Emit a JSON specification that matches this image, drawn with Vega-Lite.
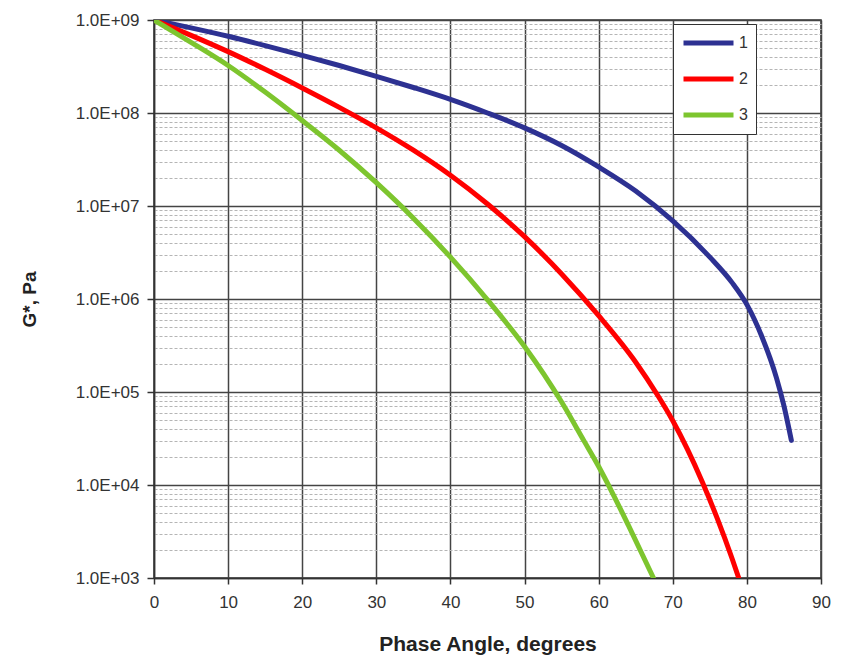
{
  "$schema": "https://vega.github.io/schema/vega-lite/v6.json",
  "width": 667,
  "height": 558,
  "autosize": "none",
  "padding": {"left": 154, "top": 20, "right": 21, "bottom": 79},
  "background": "white",
  "config": {
    "font": "Liberation Sans",
    "view": {"stroke": "#333333", "strokeWidth": 1.5}
  },
  "data": {
    "values": [
      {"series": "1", "angle": 0, "G": 1e9},
      {"series": "1", "angle": 5, "G": 8.22e8},
      {"series": "1", "angle": 10, "G": 6.68e8},
      {"series": "1", "angle": 15, "G": 5.31e8},
      {"series": "1", "angle": 20, "G": 4.17e8},
      {"series": "1", "angle": 25, "G": 3.24e8},
      {"series": "1", "angle": 30, "G": 2.48e8},
      {"series": "1", "angle": 35, "G": 1.88e8},
      {"series": "1", "angle": 40, "G": 1.40e8},
      {"series": "1", "angle": 45, "G": 1.0e8},
      {"series": "1", "angle": 50, "G": 6.92e7},
      {"series": "1", "angle": 55, "G": 4.47e7},
      {"series": "1", "angle": 60, "G": 2.63e7},
      {"series": "1", "angle": 65, "G": 1.45e7},
      {"series": "1", "angle": 70, "G": 6.92e6},
      {"series": "1", "angle": 75, "G": 2.82e6},
      {"series": "1", "angle": 78, "G": 1.5e6},
      {"series": "1", "angle": 80, "G": 8.7e5},
      {"series": "1", "angle": 82, "G": 3.98e5},
      {"series": "1", "angle": 84, "G": 1.41e5},
      {"series": "1", "angle": 85, "G": 7.08e4},
      {"series": "1", "angle": 86, "G": 3.02e4},
      {"series": "2", "angle": 0, "G": 1e9},
      {"series": "2", "angle": 5, "G": 6.84e8},
      {"series": "2", "angle": 10, "G": 4.57e8},
      {"series": "2", "angle": 15, "G": 2.95e8},
      {"series": "2", "angle": 20, "G": 1.86e8},
      {"series": "2", "angle": 25, "G": 1.15e8},
      {"series": "2", "angle": 30, "G": 6.92e7},
      {"series": "2", "angle": 35, "G": 3.98e7},
      {"series": "2", "angle": 40, "G": 2.14e7},
      {"series": "2", "angle": 45, "G": 1.05e7},
      {"series": "2", "angle": 50, "G": 4.68e6},
      {"series": "2", "angle": 55, "G": 1.86e6},
      {"series": "2", "angle": 60, "G": 6.61e5},
      {"series": "2", "angle": 65, "G": 2.09e5},
      {"series": "2", "angle": 68, "G": 9.1e4},
      {"series": "2", "angle": 70, "G": 4.9e4},
      {"series": "2", "angle": 72, "G": 2.4e4},
      {"series": "2", "angle": 74, "G": 1.07e4},
      {"series": "2", "angle": 76, "G": 4.37e3},
      {"series": "2", "angle": 78, "G": 1.62e3},
      {"series": "2", "angle": 78.9, "G": 1.0e3},
      {"series": "3", "angle": 0, "G": 1e9},
      {"series": "3", "angle": 5, "G": 5.75e8},
      {"series": "3", "angle": 10, "G": 3.24e8},
      {"series": "3", "angle": 15, "G": 1.68e8},
      {"series": "3", "angle": 20, "G": 8.3e7},
      {"series": "3", "angle": 25, "G": 3.98e7},
      {"series": "3", "angle": 30, "G": 1.78e7},
      {"series": "3", "angle": 35, "G": 7.4e6},
      {"series": "3", "angle": 40, "G": 2.82e6},
      {"series": "3", "angle": 45, "G": 9.8e5},
      {"series": "3", "angle": 50, "G": 3.09e5},
      {"series": "3", "angle": 55, "G": 7.8e4},
      {"series": "3", "angle": 58, "G": 3.0e4},
      {"series": "3", "angle": 60, "G": 1.58e4},
      {"series": "3", "angle": 62, "G": 7.8e3},
      {"series": "3", "angle": 64, "G": 3.7e3},
      {"series": "3", "angle": 67.4, "G": 1.0e3}
    ]
  },
  "layer": [
    {
      "mark": {"type": "line", "opacity": 0},
      "encoding": {
        "x": {
          "field": "angle", "type": "quantitative",
          "scale": {"domain": [0, 90]},
          "axis": {
            "title": "Phase Angle, degrees", "values": [0,10,20,30,40,50,60,70,80,90],
            "grid": true, "gridColor": "#444444", "gridWidth": 1.5, "labelFlush": false,
            "domainColor": "#333333", "domainWidth": 1.5, "tickColor": "#333333", "tickSize": 6, "tickWidth": 1.5,
            "labelFontSize": 17, "labelColor": "#333333", "labelPadding": 10,
            "titleFontSize": 21, "titleFontWeight": "bold", "titleColor": "#222222", "titlePadding": 23
          }
        },
        "y": {
          "field": "G", "type": "quantitative",
          "scale": {"type": "log", "domain": [1000, 1000000000]},
          "axis": {
            "orient": "left", "title": null, "labels": false, "ticks": false, "domain": false,
            "grid": true, "gridColor": "#b5b5b5", "gridDash": [3, 2], "gridWidth": 1,
            "values": [2000,3000,4000,5000,6000,7000,8000,9000,20000,30000,40000,50000,60000,70000,80000,90000,200000,300000,400000,500000,600000,700000,800000,900000,2000000,3000000,4000000,5000000,6000000,7000000,8000000,9000000,20000000,30000000,40000000,50000000,60000000,70000000,80000000,90000000,200000000,300000000,400000000,500000000,600000000,700000000,800000000,900000000]
          }
        },
        "detail": {"field": "series"}
      }
    },
    {
      "mark": {"type": "line", "strokeWidth": 5, "strokeCap": "round", "strokeJoin": "round", "interpolate": "monotone", "clip": true},
      "encoding": {
        "x": {
          "field": "angle", "type": "quantitative",
          "scale": {"domain": [0, 90]},
          "axis": {
            "title": "Phase Angle, degrees", "values": [0,10,20,30,40,50,60,70,80,90],
            "grid": true, "gridColor": "#444444", "gridWidth": 1.5, "labelFlush": false,
            "domainColor": "#333333", "domainWidth": 1.5, "tickColor": "#333333", "tickSize": 6, "tickWidth": 1.5,
            "labelFontSize": 17, "labelColor": "#333333", "labelPadding": 10,
            "titleFontSize": 21, "titleFontWeight": "bold", "titleColor": "#222222", "titlePadding": 23
          }
        },
        "y": {
          "field": "G", "type": "quantitative",
          "scale": {"type": "log", "domain": [1000, 1000000000]},
          "axis": {
            "orient": "left", "title": "G*, Pa",
            "values": [1000, 10000, 100000, 1000000, 10000000, 100000000, 1000000000],
            "labelExpr": "'1.0E+0' + format(log(datum.value)/LN10, '.0f')",
            "grid": true, "gridColor": "#444444", "gridWidth": 1.5, "labelFlush": false,
            "domainColor": "#333333", "domainWidth": 1.5, "tickColor": "#333333", "tickSize": 7, "tickWidth": 1.5,
            "labelFontSize": 17, "labelColor": "#333333", "labelPadding": 8,
            "titleFontSize": 19, "titleFontWeight": "bold", "titleColor": "#222222", "titlePadding": 36
          }
        },
        "color": {
          "field": "series", "type": "nominal",
          "scale": {"domain": ["1", "2", "3"], "range": ["#2d3192", "#ff0000", "#7dc52e"]},
          "legend": {
            "title": null, "orient": "none", "legendX": 519, "legendY": 4,
            "symbolType": "stroke", "symbolStrokeWidth": 5, "symbolSize": 2500,
            "labelFontSize": 16, "labelColor": "#333333", "labelOffset": 3,
            "clipHeight": 22, "rowPadding": 14,
            "strokeColor": "#333333", "fillColor": "white", "padding": 8
          }
        }
      }
    }
  ],
  "resolve": {"axis": {"y": "independent"}}
}
